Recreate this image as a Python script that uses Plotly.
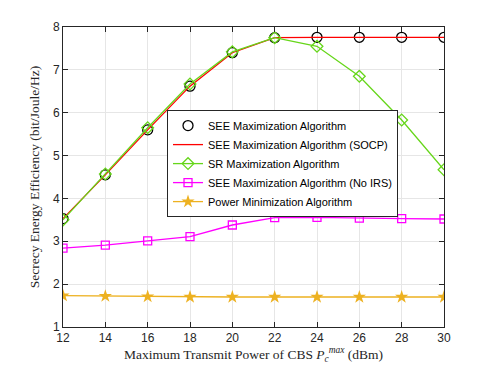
import plotly.graph_objects as go

power_dbm = [12, 14, 16, 18, 20, 22, 24, 26, 28, 30]
see_alg = [3.53, 4.55, 5.60, 6.62, 7.40, 7.75, 7.76, 7.76, 7.76, 7.76]
see_socp = [3.53, 4.55, 5.60, 6.62, 7.40, 7.75, 7.76, 7.76, 7.76, 7.76]
sr_max = [3.50, 4.57, 5.65, 6.67, 7.42, 7.75, 7.55, 6.85, 5.83, 4.67]
see_no_irs = [2.84, 2.91, 3.01, 3.11, 3.38, 3.55, 3.56, 3.54, 3.53, 3.52]
power_min = [1.73, 1.72, 1.71, 1.70, 1.70, 1.70, 1.70, 1.70, 1.70, 1.70]
y_ticks = [1, 2, 3, 4, 5, 6, 7, 8]

names = ["SEE Maximization Algorithm", "SEE Maximization Algorithm (SOCP)",
         "SR Maximization Algorithm", "SEE Maximization Algorithm (No IRS)",
         "Power Minimization Algorithm"]

fig = go.Figure()
fig.add_trace(go.Scatter(x=power_dbm, y=see_alg, name=names[0], mode="markers",
                         marker=dict(symbol="circle-open", size=10, color="black", line=dict(width=1.3))))
fig.add_trace(go.Scatter(x=power_dbm, y=see_socp, name=names[1], mode="lines",
                         line=dict(color="#ff0000", width=1.3)))
fig.add_trace(go.Scatter(x=power_dbm, y=sr_max, name=names[2], mode="lines+markers",
                         line=dict(color="#66d61a", width=1.3),
                         marker=dict(symbol="diamond-open", size=9, color="#66d61a", line=dict(width=1.3))))
fig.add_trace(go.Scatter(x=power_dbm, y=see_no_irs, name=names[3], mode="lines+markers",
                         line=dict(color="#ff00ff", width=1.3),
                         marker=dict(symbol="square-open", size=8, color="#ff00ff", line=dict(width=1.3))))
fig.add_trace(go.Scatter(x=power_dbm, y=power_min, name=names[4], mode="lines+markers",
                         line=dict(color="#edb120", width=1.3),
                         marker=dict(symbol="star", size=10, color="#edb120", line=dict(width=0))))

axis_common = dict(showline=True, linecolor="#262626", linewidth=1, mirror="ticks",
                   ticks="inside", ticklen=5, tickcolor="#262626", automargin=False,
                   showgrid=True, gridcolor="#e6e6e6", gridwidth=1, zeroline=False,
                   tickfont=dict(family="Liberation Sans, Arial", size=12, color="#262626"))

fig.update_layout(
    width=491, height=368,
    margin=dict(l=55, r=55, t=19, b=49),
    paper_bgcolor="white", plot_bgcolor="white",
    xaxis=dict(range=[12, 30], tickvals=power_dbm, title=dict(
        text="Maximum Transmit Power of CBS <i>P</i><sub><i>c</i></sub><sup><i>max</i></sup> (dBm)",
        font=dict(family="Liberation Serif, Times New Roman", size=13.5, color="#262626"), standoff=3),
        **axis_common),
    yaxis=dict(range=[1, 8], tickvals=y_ticks, title=dict(
        text="Secrecy Energy Efficiency (bit/Joule/Hz)",
        font=dict(family="Liberation Serif, Times New Roman", size=13.5, color="#262626"), standoff=10),
        **axis_common),
    legend=dict(x=0.273, y=0.723, xanchor="left", yanchor="top",
                bgcolor="white", bordercolor="#262626", borderwidth=1,
                font=dict(family="Liberation Sans, Arial", size=11, color="black"),
                tracegroupgap=0, itemwidth=30),
    showlegend=True,
)

fig.write_html("out.html")
